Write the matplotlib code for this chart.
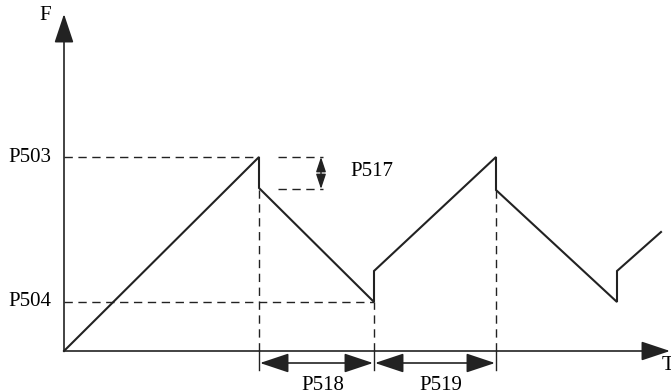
import matplotlib.pyplot as plt
from matplotlib.patches import FancyArrowPatch

plt.rcParams['font.family'] = ['Liberation Serif', 'DejaVu Serif']

# sawtooth frequency profile (time, frequency) in drawing units, origin at axis corner
t_pts = [0, 195, 195, 310, 310, 432, 432, 553, 553, 597]
f_pts = [0, 194, 163, 49, 80, 194, 161, 49, 80, 119]

f_high = 194   # P503
f_low = 49     # P504
f_step = 162   # bottom of P517 step
t_marks = [195, 310, 432]
level_labels = ['P503', 'P504']
span_labels = ['P518', 'P519']
step_label = 'P517'

fig = plt.figure(figsize=(6.71, 3.91), dpi=100)
ax = fig.add_axes([0, 0, 1, 1])
ax.set_xlim(-64, 607)
ax.set_ylim(-40, 351)
ax.axis('off')

ink = '#222222'
dash = dict(color=ink, lw=1.0, dashes=(6, 4))


def arrow(p0, p1, style, hl, hw, lw=1.2):
    ax.add_patch(FancyArrowPatch(p0, p1, arrowstyle=f'{style},head_length={hl},head_width={hw}',
                                 color=ink, lw=lw, mutation_scale=1, shrinkA=0, shrinkB=0))


# axes
arrow((0, 0), (0, 337), '-|>', 18, 6)
arrow((0, 0), (606, 0), '-|>', 18, 6)
ax.text(-19, 336, 'F', fontsize=15, ha='center', va='center')
ax.text(598, -14, 'T', fontsize=15, ha='left', va='center')

# waveform
ax.plot(t_pts, f_pts, color=ink, lw=1.5, solid_joinstyle='miter')

# guide lines
ax.plot([0, t_marks[0]], [f_high, f_high], **dash)
ax.plot([0, t_marks[1]], [f_low, f_low], **dash)
ax.plot([t_marks[0], t_marks[0]], [0, f_step], **dash)
ax.plot([t_marks[1], t_marks[1]], [0, f_low], **dash)
ax.plot([t_marks[2], t_marks[2]], [0, f_step], **dash)

# P517 step marker
ax.plot([214, 259], [f_high, f_high], **dash)
ax.plot([214, 259], [f_step, f_step], **dash)
arrow((257, f_step), (257, f_high), '<|-|>', 9, 3, lw=1.0)
ax.text(286, 180, step_label, fontsize=15, ha='left', va='center')

# level labels
ax.text(-34, f_high, level_labels[0], fontsize=15, ha='center', va='center')
ax.text(-34, f_low, level_labels[1], fontsize=15, ha='center', va='center')

# P518 / P519 spans
for tm in t_marks:
    ax.plot([tm, tm], [0, -19], color=ink, lw=1.0)
for (a, b), lab in zip([(t_marks[0], t_marks[1]), (t_marks[1], t_marks[2])], span_labels):
    arrow((a + 1, -12), (b - 1, -12), '<|-|>', 18, 6)
    ax.text((a + b) / 2 + 6, -34, lab, fontsize=15, ha='center', va='center')

fig.savefig('out.png', dpi=100)
